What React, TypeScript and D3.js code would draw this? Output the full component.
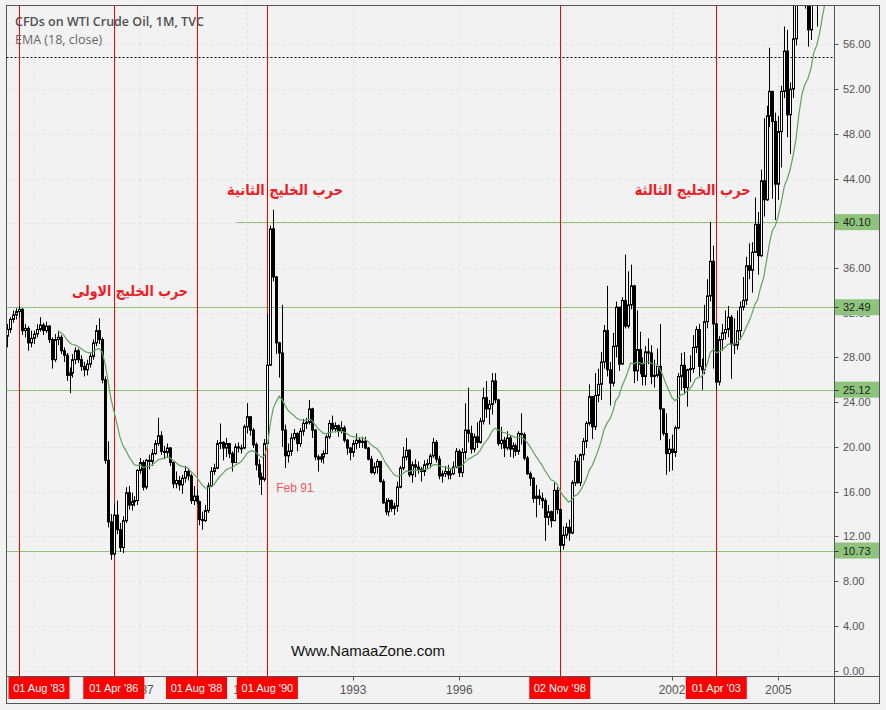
import React from 'react';
import * as d3 from 'd3';

// Monthly candles, Apr 1983 .. May 2006 (open = previous close)
const firstOpen = 29.9;
const closes = [
  // 1983 Apr-Dec
  30.5, 31.4, 31.8, 32.1, 32.3, 30.4, 30.6, 29.3, 29.7,
  // 1984
  30.1, 30.5, 30.9, 30.4, 30.8, 29.6, 27.8, 29.6, 29.8, 28.6, 28.2, 26.4,
  // 1985
  26.6, 27.8, 28.6, 27.8, 27.2, 26.9, 27.4, 28.1, 29.3, 30.4, 29.6, 26.0,
  // 1986
  18.8, 13.3, 10.4, 13.9, 12.6, 11.0, 13.4, 15.9, 14.8, 15.1, 15.2, 17.9,
  // 1987
  18.6, 16.4, 18.8, 18.7, 19.4, 20.3, 21.0, 19.6, 19.5, 19.9, 18.6, 16.7,
  // 1988
  17.0, 16.6, 17.2, 17.8, 17.4, 15.2, 15.6, 15.1, 13.5, 13.4, 14.3, 16.5,
  // 1989
  17.8, 18.1, 20.3, 20.4, 19.9, 20.3, 19.4, 18.6, 20.0, 19.9, 19.9, 21.8,
  // 1990
  22.7, 21.5, 20.2, 18.4, 17.3, 17.1, 20.3, 27.3, 39.5, 35.2, 29.3, 28.4,
  // 1991
  21.5, 19.2, 19.6, 20.8, 21.2, 20.3, 21.4, 22.1, 22.2, 23.4, 21.5, 19.1,
  // 1992
  18.9, 19.1, 19.4, 20.9, 22.1, 21.6, 21.9, 21.4, 21.7, 20.6, 19.9, 19.5,
  // 1993
  20.3, 20.6, 20.4, 20.5, 19.9, 18.9, 17.7, 18.2, 18.7, 16.9, 15.0, 14.2,
  // 1994
  15.2, 14.5, 14.7, 16.4, 18.1, 19.1, 19.7, 17.5, 18.4, 18.2, 18.0, 17.8,
  // 1995
  18.4, 18.5, 19.2, 20.4, 18.9, 17.4, 17.6, 17.8, 17.5, 17.6, 18.2, 19.6,
  // 1996
  17.7, 19.5, 21.5, 21.2, 19.8, 20.9, 20.4, 22.3, 24.4, 23.4, 23.8, 25.9,
  // 1997
  24.2, 20.3, 20.6, 19.9, 20.8, 19.8, 20.1, 19.6, 21.2, 21.1, 19.0, 17.6,
  // 1998
  17.2, 15.4, 15.6, 15.4, 15.2, 13.7, 14.2, 13.4, 16.1, 14.4, 11.2, 12.1,
  // 1999
  12.8, 12.3, 16.8, 18.7, 16.8, 19.3, 20.5, 22.1, 24.5, 21.8, 24.6, 25.6,
  // 2000
  27.6, 30.4, 26.9, 25.7, 29.0, 32.5, 27.4, 33.1, 30.8, 32.7, 34.4, 26.8,
  // 2001
  28.7, 27.4, 26.3, 28.5, 28.4, 26.3, 26.4, 27.2, 23.4, 21.2, 19.4, 19.8,
  // 2002
  19.5, 21.7, 26.3, 27.3, 25.3, 26.9, 27.0, 28.9, 30.5, 27.2, 26.9, 31.2,
  // 2003
  33.5, 36.6, 31.0, 25.8, 29.6, 30.2, 30.5, 31.6, 29.2, 29.1, 30.4, 32.5,
  // 2004
  33.1, 36.2, 35.8, 37.4, 39.9, 37.1, 43.8, 42.1, 49.6, 51.8, 49.1, 43.5,
  // 2005
  48.2, 51.8, 55.4, 49.7, 52.0, 56.5, 60.6, 68.9, 66.2, 59.8, 57.3, 61.0,
  // 2006 Jan-May
  67.9, 61.4, 66.6, 71.9, 71.3,
];
const highs = [
  31.0, 31.6, 32.2, 32.4, 32.6, 32.4, 31.0, 30.8, 30.4,
  30.4, 31.0, 31.6, 31.1, 31.2, 30.9, 29.8, 30.1, 30.3, 30.0, 28.9, 28.4,
  27.1, 28.3, 28.9, 28.8, 28.2, 27.6, 27.8, 28.4, 29.6, 30.9, 31.5, 29.8,
  26.3, 20.5, 14.0, 14.9, 15.2, 13.2, 13.8, 16.4, 16.5, 15.9, 15.6, 18.0,
  19.0, 18.8, 18.9, 19.3, 19.8, 20.6, 22.6, 21.4, 20.1, 20.3, 20.0, 18.7,
  17.8, 17.4, 17.5, 18.3, 18.1, 17.6, 16.5, 16.2, 15.2, 14.2, 14.8, 16.8,
  18.2, 18.5, 20.6, 22.1, 20.5, 20.8, 20.3, 19.6, 20.3, 20.4, 20.2, 22.0,
  23.9, 22.7, 21.7, 20.4, 18.9, 17.7, 20.7, 31.9, 39.8, 41.2, 35.3, 29.4,
  32.7, 22.0, 20.3, 21.2, 21.6, 21.3, 21.7, 22.5, 22.6, 24.2, 23.5, 21.6,
  19.3, 19.4, 19.7, 21.1, 22.4, 22.8, 22.2, 22.0, 22.3, 21.9, 20.7, 20.0,
  20.6, 21.2, 20.8, 20.9, 20.9, 20.0, 19.2, 18.6, 18.9, 18.7, 17.1, 15.4,
  15.4, 15.3, 15.0, 16.9, 18.3, 20.0, 20.8, 19.8, 18.7, 18.9, 18.7, 18.2,
  18.8, 18.9, 19.4, 20.8, 20.6, 19.2, 17.9, 18.3, 18.4, 18.0, 18.7, 19.9,
  19.8, 19.9, 23.9, 25.3, 21.9, 21.2, 22.2, 22.6, 25.3, 25.9, 24.2, 26.6,
  26.6, 24.3, 21.8, 20.9, 21.4, 21.0, 20.4, 20.3, 21.4, 23.0, 21.3, 19.2,
  17.8, 17.3, 16.6, 16.2, 15.9, 15.4, 14.8, 14.3, 16.8, 16.4, 14.5, 12.9,
  13.2, 13.5, 17.0, 19.3, 19.0, 19.4, 20.8, 22.3, 25.6, 24.5, 26.6, 27.0,
  28.5, 30.9, 34.4, 27.6, 30.2, 33.0, 32.4, 33.4, 37.2, 35.7, 36.3, 34.5,
  32.2, 30.3, 28.0, 29.0, 29.7, 29.1, 27.8, 28.8, 31.0, 23.4, 23.0, 20.7,
  21.1, 21.9, 26.6, 28.4, 28.5, 27.0, 28.2, 30.0, 30.8, 31.0, 27.9, 32.7,
  35.0, 40.1, 38.0, 31.1, 29.9, 31.0, 32.2, 32.6, 31.8, 31.5, 32.2, 33.0,
  35.2, 37.0, 38.2, 38.3, 42.3, 41.0, 44.8, 49.4, 50.5, 55.7, 50.9, 49.9,
  49.6, 52.3, 57.6, 57.3, 52.6, 60.9, 62.3, 70.9, 70.0, 66.0, 61.0, 61.4,
  68.5, 68.2, 67.0, 75.2, 74.6,
];
const lows = [
  28.9, 30.2, 31.1, 31.4, 31.6, 30.0, 29.8, 28.6, 28.9,
  29.2, 29.8, 30.3, 30.0, 30.2, 29.3, 27.0, 27.6, 29.1, 28.3, 27.6, 25.9,
  24.8, 26.2, 27.4, 27.5, 26.8, 26.3, 26.4, 27.1, 27.8, 29.0, 29.2, 25.7,
  18.5, 12.8, 9.9, 10.2, 12.2, 10.6, 10.5, 13.2, 14.4, 14.3, 14.7, 14.8,
  17.6, 16.1, 16.2, 18.0, 18.3, 19.3, 20.1, 19.3, 18.9, 19.1, 18.3, 16.3,
  16.3, 16.1, 15.8, 16.8, 17.0, 14.9, 14.8, 14.9, 13.0, 12.6, 13.3, 14.1,
  16.4, 17.5, 18.0, 19.8, 18.8, 19.1, 19.0, 17.8, 18.6, 19.5, 19.4, 19.8,
  21.2, 21.0, 19.9, 17.9, 16.6, 15.7, 16.9, 20.1, 27.3, 34.8, 28.3, 26.2,
  20.0, 18.1, 18.6, 19.2, 20.6, 19.6, 20.0, 21.0, 21.6, 22.0, 20.8, 18.8,
  17.8, 18.6, 18.5, 19.4, 20.7, 21.4, 21.3, 20.9, 21.2, 20.4, 19.3, 18.8,
  19.1, 19.8, 19.9, 19.9, 19.8, 18.8, 17.6, 17.5, 17.6, 16.8, 14.9, 13.9,
  13.8, 14.2, 13.9, 14.2, 16.3, 17.9, 18.8, 17.3, 16.8, 17.3, 17.6, 16.9,
  17.4, 18.1, 18.1, 19.0, 18.6, 17.1, 16.8, 17.3, 17.1, 17.1, 17.5, 18.1,
  17.3, 17.3, 18.9, 20.4, 19.4, 19.5, 19.9, 20.3, 22.0, 22.6, 22.0, 22.9,
  23.9, 20.1, 19.8, 19.1, 19.7, 19.1, 19.0, 19.2, 19.3, 20.2, 18.8, 17.5,
  16.5, 15.0, 13.7, 14.8, 14.5, 11.6, 13.0, 12.8, 13.4, 14.0, 10.6, 10.8,
  11.8, 11.6, 12.2, 16.5, 16.7, 16.5, 18.8, 19.9, 21.9, 20.7, 21.5, 24.0,
  24.2, 27.0, 26.3, 23.7, 25.4, 28.0, 26.8, 27.5, 30.6, 30.6, 32.3, 25.7,
  25.9, 26.5, 25.5, 25.5, 27.4, 25.6, 25.3, 26.2, 20.6, 21.0, 17.5, 17.8,
  17.9, 19.1, 21.6, 25.1, 24.7, 23.6, 25.8, 26.6, 28.4, 26.3, 25.1, 26.5,
  30.6, 33.0, 27.0, 25.1, 25.5, 28.6, 29.6, 29.8, 26.1, 28.3, 28.7, 29.6,
  32.2, 32.7, 35.0, 33.8, 37.6, 35.4, 37.0, 40.6, 42.0, 48.6, 42.2, 40.3,
  42.1, 45.0, 51.2, 47.7, 46.2, 51.2, 55.9, 60.5, 62.0, 59.2, 55.8, 56.4,
  60.8, 57.6, 59.6, 66.3, 68.7,
];

// month index 0 = Apr 1983
const yearTickMonths = [9, 45, 81, 117, 153, 189, 225, 261];
const yearTickLabels = ['', '1987', '1990', '1993', '1996', '', '2002', '2005'];
const eventMonths = [4, 36, 64, 88, 187, 240];
const eventLabels = ["01 Aug '83", "01 Apr '86", "01 Aug '88", "01 Aug '90", "02 Nov '98", "01 Apr '03"];
const priceTicks = [0, 4, 8, 12, 16, 20, 24, 28, 32, 36, 40, 44, 48, 52, 56];
const levelValues = [40.10, 32.49, 25.12, 10.73];
const levelStartMonth = [77.5, -1, -1, -1];
const currentLine = 54.9;
const annotations = [
  { text: 'حرب الخليج الاولى', month: 41.5, value: 33.5 },
  { text: 'حرب الخليج الثانية', month: 94, value: 42.5 },
  { text: 'حرب الخليج الثالثة', month: 232, value: 42.5 },
];
const febNoteMonth = 91;
const febNoteValue = 16.0;
const emaPeriod = 18;

export default function App() {
  const W = 886, H = 710;
  const left = 6.5, top = 5.5, plotRight = 834.5, axisBottom = 676.5, right = 879.5, bottom = 703.5;

  const x = d3.scaleLinear().domain([4, 240]).range([19.3, 716.3]);
  const y = d3.scaleLinear().domain([0, 56]).range([670.5, 44.4]);

  const n = closes.length;
  const candles = closes.map((c, i) => ({
    i,
    o: i === 0 ? firstOpen : closes[i - 1],
    c,
    h: highs[i],
    l: lows[i],
  }));

  // EMA(18)
  const ema: [number, number][] = [];
  let e = 0;
  for (let i = 0; i < n; i++) {
    if (i < emaPeriod - 1) continue;
    if (i === emaPeriod - 1) {
      e = d3.mean(closes.slice(0, emaPeriod)) as number;
    } else {
      const a = 2 / (emaPeriod + 1);
      e = closes[i] * a + e * (1 - a);
    }
    ema.push([i, e]);
  }
  const emaLine = d3.line<[number, number]>().x(d => x(d[0])).y(d => y(d[1]))(ema) || '';

  const axisFont = "'Liberation Sans', Arial, sans-serif";
  const green = '#8cc47b';

  return (
    <svg width={W} height={H} style={{ position: 'absolute', left: 0, top: 0 }}>
      <rect x={0} y={0} width={W} height={H} fill="#f2f2f2" />
      <defs>
        <clipPath id="plot">
          <rect x={left} y={top} width={plotRight - left} height={axisBottom - top} />
        </clipPath>
      </defs>

      {/* grid */}
      <g stroke="#e2e2e2" strokeDasharray="3,3" strokeWidth={1}>
        {priceTicks.map(v => (
          <line key={'gy' + v} x1={left} x2={plotRight} y1={Math.round(y(v)) + 0.5} y2={Math.round(y(v)) + 0.5} />
        ))}
        {yearTickMonths.map(m => (
          <line key={'gx' + m} x1={Math.round(x(m)) + 0.5} x2={Math.round(x(m)) + 0.5} y1={top} y2={axisBottom} />
        ))}
      </g>

      {/* title */}
      <text x={15} y={26} fontFamily="'Open Sans', sans-serif" fontSize={12.5} fontWeight={600} fill="#505050">CFDs on WTI Crude Oil, 1M, TVC</text>
      <text x={15} y={44} fontFamily="'Open Sans', sans-serif" fontSize={12.5} fill="#666">EMA (18, close)</text>

      <g clipPath="url(#plot)">
        {/* level lines */}
        {levelValues.map((v, k) => (
          <line key={'lv' + k} x1={levelStartMonth[k] < 0 ? left : x(levelStartMonth[k])} x2={plotRight}
            y1={Math.round(y(v)) + 0.5} y2={Math.round(y(v)) + 0.5} stroke={green} strokeWidth={1} />
        ))}
        {/* current price dotted */}
        <line x1={left} x2={plotRight} y1={Math.round(y(currentLine)) + 0.5} y2={Math.round(y(currentLine)) + 0.5}
          stroke="#000" strokeDasharray="2,2" strokeWidth={1} />
        {/* event lines */}
        {eventMonths.map(m => (
          <line key={'ev' + m} x1={Math.round(x(m)) + 0.5} x2={Math.round(x(m)) + 0.5} y1={top} y2={axisBottom}
            stroke="#ff0000" strokeWidth={1} />
        ))}
        {/* candles */}
        {candles.map(d => {
          const cx = Math.round(x(d.i)) + 0.5;
          const up = d.c >= d.o;
          const yTop = y(Math.max(d.o, d.c));
          const yBot = y(Math.min(d.o, d.c));
          return (
            <g key={'c' + d.i}>
              <line x1={cx} x2={cx} y1={y(d.h)} y2={y(d.l)} stroke="#000" strokeWidth={1} />
              <rect x={cx - 1} y={yTop} width={2} height={Math.max(1, yBot - yTop)}
                fill={up ? '#fff' : '#000'} stroke="#000" strokeWidth={1} />
            </g>
          );
        })}
        <path d={emaLine} fill="none" stroke="#5fa35d" strokeWidth={1.2} />

        {/* annotations */}
        {annotations.map((a, k) => (
          <text key={'an' + k} x={x(a.month)} y={y(a.value)} textAnchor="middle"
            fontFamily="'DejaVu Sans', sans-serif" fontWeight="bold" fontSize={15}
            textLength={116} lengthAdjust="spacingAndGlyphs" fill="#ee1c25">{a.text}</text>
        ))}
        <text x={x(febNoteMonth)} y={y(febNoteValue) + 0.5} fontFamily={axisFont} fontSize={12} fill="#f05a5a">Feb 91</text>
        <text x={368} y={656} textAnchor="middle" fontFamily={axisFont} fontSize={15} fill="#111">Www.NamaaZone.com</text>
      </g>

      {/* frame */}
      <rect x={left} y={top} width={right - left} height={bottom - top} fill="none" stroke="#555" strokeWidth={1} />
      <line x1={plotRight} x2={plotRight} y1={top} y2={bottom} stroke="#555" />
      <line x1={left} x2={right} y1={axisBottom} y2={axisBottom} stroke="#555" />

      {/* price axis */}
      {priceTicks.map(v => (
        <g key={'pt' + v}>
          <line x1={plotRight} x2={plotRight + 4} y1={Math.round(y(v)) + 0.5} y2={Math.round(y(v)) + 0.5} stroke="#555" />
          <text x={843} y={y(v) + 4} fontFamily={axisFont} fontSize={11} fill="#555">{v.toFixed(2)}</text>
        </g>
      ))}
      {levelValues.map((v, k) => (
        <g key={'pl' + k}>
          <rect x={plotRight + 0.5} y={y(v) - 8} width={right - plotRight - 1} height={16} fill={green} />
          <line x1={plotRight} x2={plotRight + 4} y1={Math.round(y(v)) + 0.5} y2={Math.round(y(v)) + 0.5} stroke="#333" />
          <text x={843} y={y(v) + 4} fontFamily={axisFont} fontSize={11} fill="#222">{v.toFixed(2)}</text>
        </g>
      ))}

      {/* time axis */}
      {yearTickMonths.map((m, k) => (
        <g key={'yt' + m}>
          <line x1={Math.round(x(m)) + 0.5} x2={Math.round(x(m)) + 0.5} y1={axisBottom} y2={axisBottom + 4} stroke="#555" />
          {yearTickLabels[k] ? (
            <text x={x(m)} y={694} textAnchor="middle" fontFamily={axisFont} fontSize={12} fill="#555">{yearTickLabels[k]}</text>
          ) : null}
        </g>
      ))}
      {eventMonths.map((m, k) => {
        const cx = x(m);
        const bw = 61;
        const bx = Math.max(left + 2, cx - bw / 2);
        return (
          <g key={'el' + m}>
            <rect x={bx} y={axisBottom + 0.5} width={bw} height={22} fill="#ff0000" />
            <text x={bx + bw / 2} y={692} textAnchor="middle" fontFamily={axisFont} fontSize={11} fill="#fff">{eventLabels[k]}</text>
          </g>
        );
      })}
    </svg>
  );
}
